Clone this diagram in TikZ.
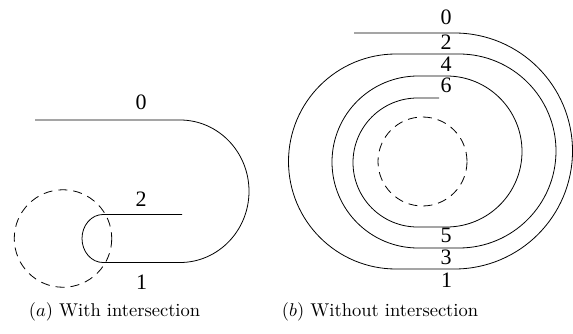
\documentclass[tikz,border=0pt]{standalone}
\usepackage{fontspec}
\newfontfamily\labfont{Liberation Serif}
\begin{document}
\begin{tikzpicture}[x=1pt,y=-1pt,
  curve/.style={line width=0.8pt, line join=round},
  dashcircle/.style={line width=0.8pt, dash pattern=on 9pt off 6pt},
  lab/.style={inner sep=0pt, font=\labfont\fontsize{22}{24}\selectfont},
  captext/.style={inner sep=0pt, anchor=base, scale=1.85, transform shape, font=\fontsize{10}{12}\selectfont}]
\useasboundingbox (0,0) rectangle (573,334);

% (a) with intersection
\draw[curve] (35,120) -- (180,120)
  arc[start angle=-90, end angle=90, x radius=69, y radius=71.25]
  -- (103,262.5)
  arc[start angle=90, end angle=270, x radius=21, y radius=24]
  -- (182,214.5);
\draw[dashcircle] (63,238.5) circle[radius=48.75];
\node[lab] (a0) at (141,102.5) {0};
\node[lab] (a2) at (141,199) {2};
\node[lab] (a1) at (141.5,282.5) {1};

% (b) without intersection
\draw[curve] (354,33) -- (454.5,33)
  arc[start angle=-90, end angle=90, radius=118]
  -- (396,269)
  arc[start angle=90, end angle=270, radius=107.5]
  -- (459,54)
  arc[start angle=-90, end angle=90, radius=97]
  -- (418,248)
  arc[start angle=90, end angle=270, radius=86]
  -- (446.5,76)
  arc[start angle=-90, end angle=90, radius=75.5]
  -- (417.5,227)
  arc[start angle=90, end angle=270, radius=64.5]
  -- (439,98);
\draw[dashcircle] (422.5,161.5) circle[radius=44.5];
\node[lab] (b0) at (446,17.5) {0};
\node[lab] (b2) at (446,42.5) {2};
\node[lab] (b4) at (446,64) {4};
\node[lab] (b6) at (446,85) {6};
\node[lab] (b5) at (446,235.5) {5};
\node[lab] (b3) at (446,257.5) {3};
\node[lab] (b1) at (446.5,280.5) {1};

% captions
\node[captext] (capa) at (114.5,316) {$(a)$ With intersection};
\node[captext] (capb) at (380,316) {$(b)$ Without intersection};
\end{tikzpicture}
\end{document}
